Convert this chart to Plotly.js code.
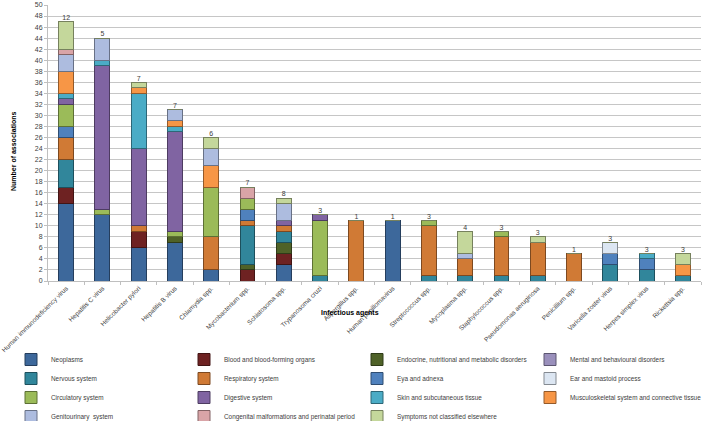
<!DOCTYPE html>
<html><head><meta charset="utf-8">
<script src="https://cdn.plot.ly/plotly-3.0.1.min.js"></script>
<style>html,body{margin:0;padding:0;background:#fff}#chart{width:707px;height:421px}</style>
</head><body><div id="chart"></div>
<script>
const agents = ["Human immunodeficiency virus","Hepatitis C virus","Helicobacter pylori","Hepatitis B virus","Chlamydia spp.","Mycobacterium spp.","Schistosoma spp.","Trypanosoma cruzi","Aspergillus spp.","Human papillomavirus","Streptococcus spp.","Mycoplasma spp.","Staphylococcus spp.","Pseudomonas aeruginosa","Penicillium spp.","Varicella zoster virus","Herpes simplex virus","Rickettsia spp."];
const countLabels = [12,5,7,7,6,7,8,3,1,1,3,4,3,3,1,3,3,3];

const neoplasms      = [14,12,6,7,2,0,3,0,0,11,0,0,0,0,0,0,0,0];
const blood          = [3,0,3,0,0,2,2,0,0,0,0,0,0,0,0,0,0,0];
const endocrine      = [0,0,0,1,0,1,2,0,0,0,0,0,0,0,0,0,0,0];
const mental         = [0,0,0,0,0,0,0,0,0,0,0,0,0,0,0,0,0,0];
const nervous        = [5,0,0,0,0,7,2,1,0,0,1,1,1,1,0,3,2,1];
const respiratory    = [4,0,1,0,6,1,1,0,11,0,9,3,7,6,5,0,0,0];
const eye            = [2,0,0,0,0,2,0,0,0,0,0,0,0,0,0,2,2,0];
const ear            = [0,0,0,0,0,0,0,0,0,0,0,0,0,0,0,2,0,0];
const circulatory    = [4,1,0,1,9,2,0,10,0,0,1,0,1,0,0,0,0,0];
const digestive      = [1,26,14,18,0,0,1,1,0,0,0,0,0,0,0,0,0,0];
const skin           = [1,1,10,1,0,0,0,0,0,0,0,0,0,0,0,0,1,0];
const musculo        = [4,0,1,1,4,0,0,0,0,0,0,0,0,0,0,0,0,2];
const genitourinary  = [3,4,0,2,3,0,3,0,0,0,0,1,0,0,0,0,0,0];
const congenital     = [1,0,0,0,0,2,0,0,0,0,0,0,0,0,0,0,0,0];
const symptoms       = [5,0,1,0,2,0,1,0,0,0,0,4,0,1,0,0,0,2];

const seriesNames = ["Neoplasms","Blood and blood-forming organs","Endocrine, nutritional and metabolic disorders","Mental and behavioural disorders","Nervous system","Respiratory system","Eya and adnexa","Ear and mastoid process","Circulatory system","Digestive system","Skin and subcutaneous tissue","Musculoskeletal system and connective tissue","Genitourinary  system","Congenital malformations and perinatal period","Symptoms not classified elsewhere"];
const seriesValues = [neoplasms,blood,endocrine,mental,nervous,respiratory,eye,ear,circulatory,digestive,skin,musculo,genitourinary,congenital,symptoms];
const seriesColors = ["#3D689B","#6E2222","#4F6228","#9A90BC","#31869B","#D07A35","#4F81BD","#DCE6F2","#9BBB59","#8064A2","#4BACC6","#F79646","#ADBCDF","#D9A4A7","#C4D79B"];

function darker(hex, f){
  const n = parseInt(hex.slice(1),16);
  const r = Math.round(((n>>16)&255)*f), g = Math.round(((n>>8)&255)*f), b = Math.round((n&255)*f);
  return `rgb(${r},${g},${b})`;
}

const traces = seriesNames.map((name,i)=>({
  type:'bar', name:name, x:agents, y:seriesValues[i],
  marker:{color:seriesColors[i], line:{color:darker(seriesColors[i],0.6), width:1}},
  hoverinfo:'name+y'
}));

const totals = agents.map((_,j)=>seriesValues.reduce((s,arr)=>s+arr[j],0));
traces.push({
  type:'scatter', mode:'text', x:agents, y:totals, text:countLabels.map(String),
  textposition:'top center', textfont:{family:'Liberation Sans, Arial, sans-serif', size:7, color:'#404040'},
  showlegend:false, hoverinfo:'skip', cliponaxis:false
});

const W = 707, H = 421;
const plotL = 48, plotR = 701, plotT = 5, plotB = 281;
const pw = plotR-plotL, ph = plotB-plotT;
const layout = {
  width:W, height:H,
  margin:{l:plotL, r:W-plotR, t:plotT, b:H-plotB, pad:0, autoexpand:false},
  barmode:'stack', bargap:0.59,
  paper_bgcolor:'#fff', plot_bgcolor:'#fff',
  font:{family:'Liberation Sans, Arial, sans-serif', size:7, color:'#404040'},
  xaxis:{type:'category', range:[-0.5, agents.length-0.5], tickangle:-45, tickson:'boundaries', ticks:'outside', ticklen:3, tickcolor:'#bfbfbf',
    showline:true, linecolor:'#bfbfbf', linewidth:1, showgrid:false, tickfont:{size:6.5, color:'#404040'}, automargin:false},
  yaxis:{range:[0,50], dtick:2, showgrid:true, gridcolor:'#c6c6c6', gridwidth:1, showline:true, linecolor:'#bfbfbf',
    ticks:'outside', ticklen:3, tickcolor:'#bfbfbf', tickfont:{size:7, color:'#404040'}, zeroline:false, automargin:false},
  showlegend:true,
  legend:{orientation:'h', xref:'paper', yref:'paper', x:(11-plotL)/pw, xanchor:'left', y:(plotB-345)/ph, yanchor:'top',
    entrywidth:128, entrywidthmode:'pixels', traceorder:'normal', font:{size:6.4, color:'#404040'}, itemwidth:30, tracegroupgap:0},
  annotations:[
    {text:'<b>Infectious agents</b>', xref:'paper', yref:'paper', x:(350-plotL)/pw, y:(plotB-313)/ph,
     showarrow:false, font:{size:7, color:'#000'}, xanchor:'center', yanchor:'middle'},
    {text:'<b>Number of associations</b>', xref:'paper', yref:'paper', x:(14-plotL)/pw, y:(plotB-152)/ph,
     showarrow:false, textangle:-90, font:{size:7, color:'#000'}, xanchor:'center', yanchor:'middle'}
  ]
};
Plotly.newPlot('chart', traces, layout, {displayModeBar:false, staticPlot:true});
</script></body></html>
